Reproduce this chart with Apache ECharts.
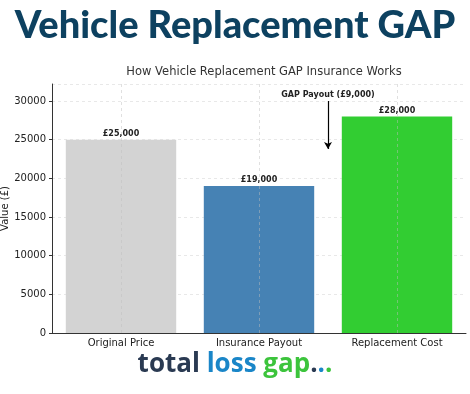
<!DOCTYPE html>
<html><head><meta charset="utf-8">
<script src="https://cdn.jsdelivr.net/npm/echarts@6/dist/echarts.min.js"></script>
<style>html,body{margin:0;padding:0;background:#fff}#c{width:470px;height:394px}</style>
</head><body><div id="c"></div>
<script>
const categories = ['Original Price', 'Insurance Payout', 'Replacement Cost'];
const values = [25000, 19000, 28000];
const barLabels = ['£25,000', '£19,000', '£28,000'];
const barColors = ['#d3d3d3', '#4682b4', '#32cd32'];
const gapText = 'GAP Payout (£9,000)';
const gapArrow = [[1.5, 30000], [1.5, 23800]];
const categoryPositions = [0, 1, 2];

const chart = echarts.init(document.getElementById('c'), null, {renderer: 'canvas'});
const font = 'DejaVu Sans';
const logoBase = {fontFamily: 'Open Sans', fontWeight: 'bold', fontSize: 26};
chart.setOption({
  animation: false,
  title: [{
    text: 'Vehicle Replacement GAP', left: 'center', top: 2,
    textStyle: {fontFamily: 'Lato', fontWeight: 900, fontSize: 38, color: '#0d4160'}
  }, {
    text: 'How Vehicle Replacement GAP Insurance Works', left: 259, textAlign: 'center', top: 61,
    textStyle: {fontFamily: font, fontWeight: 'normal', fontSize: 11.5, color: '#333'}
  }],
  grid: {left: 52, right: 4, top: 84, bottom: 61, outerBoundsMode: 'none', containLabel: false},
  xAxis: [{
    type: 'category', data: categories,
    axisLine: {onZero: false, lineStyle: {color: '#333', width: 1}},
    axisTick: {show: false},
    axisLabel: {fontFamily: font, fontSize: 10, color: '#222', margin: 5},
    splitLine: {show: false}
  }, {
    type: 'value', min: -0.5, max: 2.5, show: false
  }],
  yAxis: {
    type: 'value', min: 0, max: 32200, interval: 5000,
    name: 'Value (£)', nameLocation: 'middle', nameGap: 42, nameMoveOverlap: false,
    nameTextStyle: {fontFamily: font, fontSize: 10, color: '#222'},
    axisLine: {show: true, onZero: false, lineStyle: {color: '#333'}},
    axisTick: {show: true, length: 3, lineStyle: {color: '#333'}},
    axisLabel: {fontFamily: font, fontSize: 10, color: '#222', margin: 6, showMaxLabel: false, formatter: v => String(v)},
    splitLine: {show: true, lineStyle: {color: '#e3e3e3', type: [3, 3], width: 0.8}}
  },
  series: [{
    type: 'bar', barWidth: '80%',
    data: values.map((v, i) => ({value: v, itemStyle: {color: barColors[i]}, label: {formatter: barLabels[i]}})),
    label: {show: true, position: 'top', distance: 2, fontFamily: font, fontWeight: 'bold', fontSize: 8, color: '#222'}
  }, {
    type: 'line', xAxisIndex: 1, data: [], silent: true, z: 5,
    markLine: {
      silent: true, symbol: 'none', precision: 4,
      label: {show: false},
      lineStyle: {color: '#bdbdbd', type: [3, 3], width: 0.8, opacity: 0.6},
      data: categoryPositions.map(x => ({xAxis: x}))
    }
  }, {
    type: 'line', xAxisIndex: 1, data: [], silent: true, z: 6,
    markLine: {
      silent: true, symbol: ['none', 'arrow'], symbolSize: [6, 7], precision: 4,
      lineStyle: {color: '#000', type: 'solid', width: 1.2},
      label: {show: false},
      data: [[{coord: gapArrow[0]}, {coord: gapArrow[1]}]]
    },
    markPoint: {
      silent: true, symbol: 'circle', symbolSize: 0,
      label: {show: true, formatter: gapText, position: 'top', distance: 2, fontFamily: font, fontWeight: 'bold', fontSize: 8, color: '#222'},
      data: [{coord: gapArrow[0]}]
    }
  }],
  graphic: [{
    type: 'text', left: 'center', top: 352,
    style: {
      text: '{a|total} {b|loss} {c|gap}{d|.}{e|.}{f|.}',
      rich: {
        a: Object.assign({fill: '#2a3a52'}, logoBase),
        b: Object.assign({fill: '#1a86c8'}, logoBase),
        c: Object.assign({fill: '#3cc43c'}, logoBase),
        d: Object.assign({fill: '#2a3a52'}, logoBase),
        e: Object.assign({fill: '#1a86c8'}, logoBase),
        f: Object.assign({fill: '#3cc43c'}, logoBase)
      },
      font: 'bold 26px "Open Sans"'
    }
  }]
});
</script></body></html>
